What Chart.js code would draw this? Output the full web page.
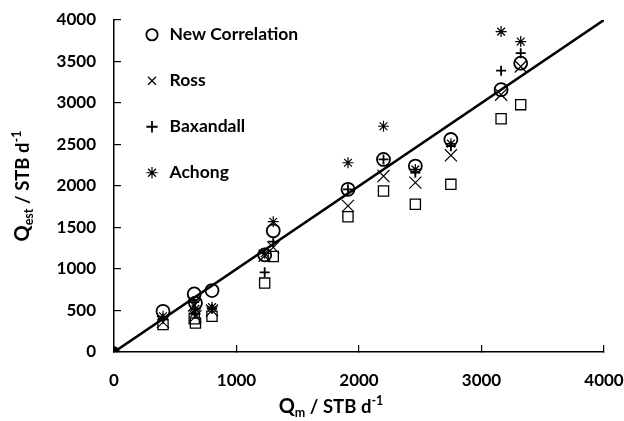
<!DOCTYPE html>
<html>
<head>
<meta charset="utf-8">
<script src="https://cdn.jsdelivr.net/npm/chart.js@4.4.1/dist/chart.umd.min.js"></script>
<style>
  html, body { margin: 0; padding: 0; background: #fff; }
  #wrap { width: 624px; height: 421px; }
</style>
</head>
<body>
<div id="wrap"><canvas id="myChart"></canvas></div>
<script>
// measured rate Qm (STB/d) and estimated rates from each correlation
const measured       = [400, 655, 665, 800, 1230, 1300, 1910, 2200, 2460, 2750, 3160, 3320];
const newCorrelation = [490, 700, 590, 740, 1170, 1460, 1960, 2320, 2240, 2560, 3160, 3480];
const ross           = [360, 560, 430, 500, 1160, 1260, 1760, 2120, 2040, 2370, 3100, 3440];
const baxandall      = [400, 600, 460, 520, 960, 1330, 1960, 2320, 2160, 2480, 3390, 3600];
const achong         = [430, 470, 520, 540, 1190, 1570, 2280, 2720, 2200, 2510, 3860, 3740];
const gilbert        = [330, 400, 350, 430, 830, 1150, 1630, 1940, 1780, 2020, 2810, 2980];
const parityLine     = [0, 4000];

const FONT = "Lato";

function pts(ys) {
  return measured.map((x, i) => ({ x: x, y: ys[i] }));
}

function series(label, ys, style, radius, width) {
  return {
    type: "scatter",
    label: label,
    data: pts(ys),
    pointStyle: style,
    pointRadius: radius,
    pointBorderWidth: width,
    pointBorderColor: "#000",
    pointBackgroundColor: "rgba(0,0,0,0)",
    borderColor: "#000",
    backgroundColor: "rgba(0,0,0,0)",
  };
}

// draws a title made of runs with sub/superscripts
function drawRuns(ctx, runs, cx, cy, rotate) {
  ctx.save();
  ctx.translate(cx, cy);
  if (rotate) ctx.rotate(-Math.PI / 2);
  ctx.fillStyle = "#000";
  ctx.textBaseline = "alphabetic";
  let total = 0;
  runs.forEach(r => {
    ctx.font = "bold " + r.size + "px " + FONT;
    total += ctx.measureText(r.text).width;
  });
  let x = -total / 2;
  runs.forEach(r => {
    ctx.font = "bold " + r.size + "px " + FONT;
    ctx.fillText(r.text, x, r.dy || 0);
    x += ctx.measureText(r.text).width;
  });
  ctx.restore();
}

const titles = {
  id: "titles",
  afterLayout(chart) {
    // place the legend in the top left corner of the plot
    const lg = chart.legend;
    if (lg) {
      lg.left = 114.75;
      lg.top = -2.5;
      lg.right = 400;
      lg.bottom = 352;
    }
  },
  afterDraw(chart) {
    const ctx = chart.ctx;
    drawRuns(ctx, [
      { text: "Q", size: 20 },
      { text: "m", size: 12.5, dy: 4 },
      { text: " / STB d", size: 18.5 },
      { text: "-1", size: 12.5, dy: -8 },
    ], 331, 413, false);
    drawRuns(ctx, [
      { text: "Q", size: 20 },
      { text: "est", size: 12.5, dy: 4 },
      { text: " / STB d", size: 18.5 },
      { text: "-1", size: 12.5, dy: -8 },
    ], 29, 186, true);
  },
};

const tickFont = { family: FONT, size: 17, weight: "bold" };

const config = {
  type: "scatter",
  data: {
    datasets: [
      series("New Correlation", newCorrelation, "circle", 6.5, 1.8),
      series("Ross", ross, "crossRot", 8.5, 1.2),
      series("Baxandall", baxandall, "cross", 5, 1.8),
      series("Achong", achong, "star", 5.5, 1.2),
      series("Gilbert", gilbert, "rect", 7.2, 1.3),
      {
        type: "line",
        label: "1:1",
        data: parityLine.map(v => ({ x: v, y: v })),
        borderColor: "#000",
        borderWidth: 2.6,
        pointRadius: [4.5, 0],
        pointBackgroundColor: "#000",
        pointBorderColor: "#000",
        fill: false,
      },
    ],
  },
  options: {
    responsive: true,
    maintainAspectRatio: false,
    animation: false,
    events: [],
    layout: { padding: { top: 20, right: 20, bottom: 0, left: 0 } },
    plugins: {
      tooltip: { enabled: false },
      legend: {
        position: "chartArea",
        align: "start",
        labels: {
          usePointStyle: true,
          boxHeight: 8,
          padding: 28.5,
          color: "#000",
          font: { family: FONT, size: 17.5, weight: "bold" },
          filter: item => item.datasetIndex < 4,
        },
      },
    },
    scales: {
      x: {
        type: "linear",
        min: 0,
        max: 4000,
        ticks: { stepSize: 1000, padding: 25, color: "#000", font: tickFont, callback: v => String(v) },
        grid: { drawOnChartArea: false, tickLength: -7, color: "#000", lineWidth: 1.2 },
        border: { color: "#000", width: 1.5 },
        afterFit: s => { s.height = 69; s.paddingLeft = 0; s.paddingRight = 0; },
      },
      y: {
        type: "linear",
        min: 0,
        max: 4000,
        ticks: { stepSize: 500, padding: 25, color: "#000", font: tickFont, callback: v => String(v) },
        grid: { drawOnChartArea: false, tickLength: -7, color: "#000", lineWidth: 1.2 },
        border: { color: "#000", width: 1.5 },
        afterFit: s => { s.width = 114; s.paddingTop = 0; s.paddingBottom = 0; },
      },
    },
  },
  plugins: [titles],
};

const myChart = new Chart(document.getElementById("myChart"), config);
</script>
</body>
</html>
